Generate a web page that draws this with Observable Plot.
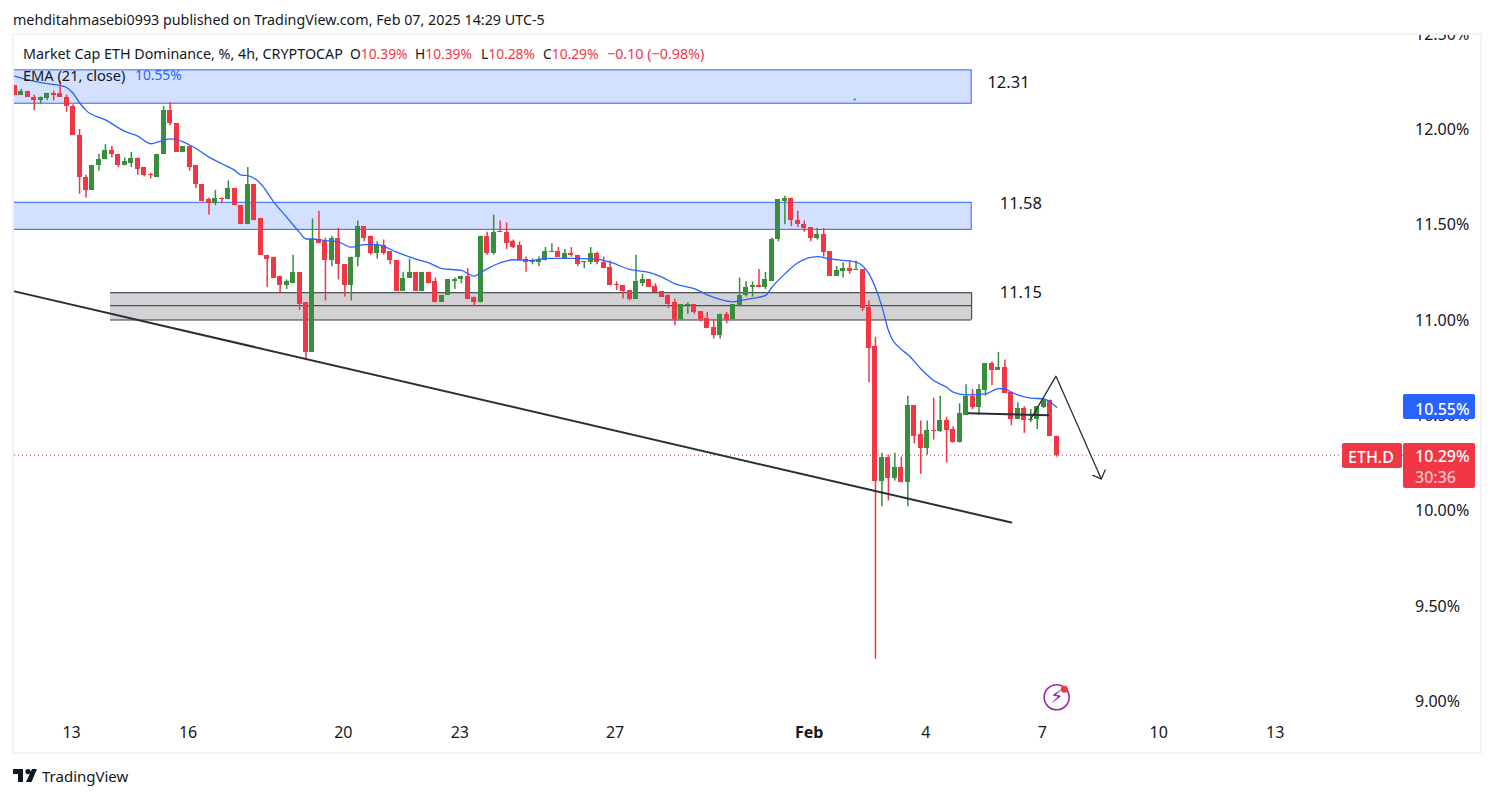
<!DOCTYPE html>
<html>
<head>
<meta charset="utf-8">
<script src="https://cdn.jsdelivr.net/npm/d3@7"></script>
<script src="https://cdn.jsdelivr.net/npm/@observablehq/plot@0.6"></script>
<style>
html,body{margin:0;padding:0;background:#fff;width:1495px;height:798px;overflow:hidden;font-family:"Noto Sans",sans-serif;color:#131722}
.abs{position:absolute;white-space:nowrap;line-height:1}
#frame{position:absolute;left:12px;top:33px;width:1470px;height:721px;box-sizing:border-box;border:2px solid #f3f3f3}
#chart{position:absolute;left:14px;top:35px;width:1466px;height:717px}
#chart svg{overflow:hidden;display:block;font-family:"Noto Sans",sans-serif}
.tag{position:absolute;color:#fff;font-size:16px;border-radius:2px;box-sizing:border-box}
.r{color:#f23645}
.h{font-size:14.3px}
</style>
</head>
<body>
<div id="frame"></div>
<div id="chart"></div>

<div class="abs h" id="pub" style="left:13px;top:13px">mehditahmasebi0993 published on TradingView.com, Feb 07, 2025 14:29 UTC-5</div>
<div class="abs h" style="left:23px;top:47px">Market Cap ETH Dominance, %, 4h, CRYPTOCAP</div>
<div class="abs" style="left:350px;top:47px;font-size:13.8px">O<span class="r">10.39%</span></div>
<div class="abs" style="left:415px;top:47px;font-size:13.8px">H<span class="r">10.39%</span></div>
<div class="abs" style="left:481px;top:47px;font-size:13.8px">L<span class="r">10.28%</span></div>
<div class="abs" style="left:543px;top:47px;font-size:13.8px">C<span class="r">10.29%</span></div>
<div class="abs r" style="left:607px;top:47px;font-size:14.3px">−0.10 (−0.98%)</div>
<div class="abs" style="left:23px;top:68px;font-size:14.6px">EMA (21, close)</div>
<div class="abs" style="left:135px;top:68px;font-size:13.8px;color:#2962ff">10.55%</div>

<div class="tag" style="left:1403px;top:394px;width:72px;height:25px;background:#2962ff;padding:4px 5px 0 12px;font-weight:500">10.55%</div>
<div class="tag" style="left:1342px;top:443px;width:60px;height:25px;background:#f23645;padding:3px 0 0 6px;font-weight:500">ETH.D</div>
<div class="tag" style="left:1403px;top:443px;width:72px;height:45px;background:#f23645;padding:3px 5px 0 12px;font-weight:500;line-height:21px">10.29%<br><span style="color:#ffc4c9">30:36</span></div>

<svg class="abs" style="left:13px;top:769px" width="24" height="14" viewBox="0 0 24 14"><path d="M0 0H10V13H5V5H0Z M15 0A2.6 2.6 0 1 1 15 5.2A2.6 2.6 0 1 1 15 0Z M19 0H24L18.5 13H13Z" fill="#131722"/></svg>
<div class="abs" style="left:42px;top:769px;font-size:15px">TradingView</div>

<script>
// OHLC of every 4h candle
const opens = [12.23,12.18,12.20,12.17,12.15,12.16,12.19,12.19,12.17,12.12,11.97,11.75,11.68,11.81,11.84,11.89,11.87,11.81,11.82,11.85,11.80,11.765,11.75,11.87,12.10,12.03,11.88,11.91,11.81,11.71,11.63,11.61,11.64,11.63,11.69,11.60,11.50,11.71,11.53,11.34,11.33,11.23,11.18,11.19,11.25,11.09,10.83,11.42,11.41,11.31,11.43,11.29,11.18,11.33,11.49,11.44,11.35,11.39,11.36,11.31,11.15,11.22,11.25,11.15,11.25,11.20,11.09,11.13,11.20,11.21,11.23,11.12,11.09,11.44,11.35,11.465,11.46,11.41,11.39,11.32,11.30,11.30,11.31,11.355,11.36,11.32,11.35,11.34,11.30,11.30,11.35,11.30,11.275,11.185,11.18,11.155,11.11,11.19,11.21,11.175,11.15,11.13,11.09,11.00,11.075,11.08,11.045,11.01,10.96,10.92,11.03,11.00,11.07,11.13,11.17,11.18,11.17,11.20,11.42,11.62,11.64,11.52,11.50,11.485,11.43,11.45,11.36,11.23,11.255,11.27,11.26,11.265,11.065,10.86,10.15,10.28,10.17,10.225,10.145,10.55,10.40,10.325,10.42,10.415,10.47,10.425,10.355,10.50,10.60,10.54,10.63,10.77,10.735,10.75,10.62,10.48,10.535,10.47,10.48,10.54,10.58,10.39];
const highs = [12.23,12.21,12.20,12.18,12.17,12.19,12.20,12.25,12.18,12.13,12.00,11.76,11.81,11.87,11.92,11.91,11.87,11.85,11.88,11.85,11.80,11.77,11.87,12.12,12.14,12.03,11.91,11.91,11.81,11.71,11.64,11.68,11.64,11.73,11.69,11.60,11.80,11.71,11.53,11.34,11.33,11.23,11.21,11.34,11.25,11.09,11.53,11.57,11.43,11.44,11.48,11.29,11.33,11.52,11.49,11.44,11.41,11.42,11.36,11.31,11.25,11.32,11.25,11.25,11.25,11.22,11.13,11.21,11.22,11.23,11.27,11.12,11.44,11.46,11.55,11.52,11.51,11.42,11.41,11.33,11.32,11.33,11.38,11.40,11.38,11.37,11.38,11.34,11.305,11.38,11.355,11.33,11.31,11.20,11.18,11.155,11.34,11.24,11.21,11.19,11.15,11.13,11.11,11.08,11.09,11.08,11.045,11.04,11.00,11.03,11.04,11.08,11.22,11.20,11.20,11.265,11.25,11.43,11.63,11.65,11.64,11.57,11.52,11.485,11.48,11.48,11.36,11.28,11.30,11.31,11.31,11.265,11.10,10.91,10.30,10.29,10.30,10.28,10.60,10.55,10.47,10.47,10.59,10.60,10.49,10.44,10.56,10.66,10.635,10.66,10.77,10.78,10.83,10.79,10.62,10.565,10.545,10.53,10.545,10.585,10.58,10.39];
const lows = [12.18,12.18,12.17,12.10,12.13,12.15,12.15,12.17,12.09,11.97,11.66,11.64,11.68,11.78,11.84,11.85,11.80,11.81,11.80,11.76,11.75,11.74,11.75,11.87,12.02,11.88,11.88,11.78,11.69,11.62,11.55,11.60,11.61,11.63,11.60,11.50,11.50,11.52,11.34,11.17,11.22,11.14,11.16,11.19,11.05,10.79,10.83,11.40,11.10,11.28,11.21,11.12,11.10,11.28,11.41,11.34,11.32,11.34,11.29,11.15,11.15,11.22,11.15,11.15,11.19,11.09,11.09,11.13,11.16,11.19,11.11,11.07,11.09,11.34,11.34,11.46,11.37,11.375,11.31,11.25,11.29,11.28,11.31,11.355,11.33,11.32,11.33,11.28,11.27,11.29,11.29,11.27,11.18,11.155,11.11,11.10,11.11,11.175,11.17,11.145,11.12,11.06,10.97,11.00,11.03,11.03,10.99,10.955,10.90,10.90,10.98,11.00,11.07,11.12,11.12,11.17,11.16,11.20,11.41,11.50,11.49,11.485,11.46,11.41,11.42,11.33,11.23,11.23,11.22,11.24,11.26,11.045,10.67,9.22,10.02,10.05,10.155,10.145,10.02,10.35,10.19,10.29,10.37,10.41,10.25,10.355,10.355,10.50,10.53,10.50,10.60,10.655,10.735,10.615,10.445,10.48,10.405,10.46,10.425,10.535,10.39,10.28];
const closes = [12.18,12.20,12.17,12.15,12.17,12.19,12.18,12.17,12.12,11.97,11.75,11.68,11.81,11.84,11.89,11.87,11.81,11.83,11.85,11.79,11.76,11.76,11.87,12.10,12.03,11.88,11.91,11.80,11.71,11.62,11.61,11.64,11.63,11.69,11.60,11.50,11.71,11.52,11.34,11.32,11.22,11.18,11.20,11.25,11.08,10.83,11.42,11.40,11.31,11.43,11.29,11.18,11.33,11.49,11.43,11.35,11.39,11.35,11.31,11.15,11.22,11.25,11.15,11.25,11.19,11.09,11.13,11.21,11.21,11.23,11.11,11.09,11.44,11.35,11.46,11.46,11.40,11.38,11.31,11.30,11.31,11.32,11.36,11.36,11.33,11.35,11.34,11.29,11.305,11.35,11.30,11.27,11.18,11.18,11.15,11.11,11.20,11.21,11.17,11.145,11.12,11.08,11.00,11.08,11.08,11.04,11.005,10.955,10.92,11.03,11.00,11.08,11.13,11.17,11.18,11.17,11.21,11.42,11.63,11.64,11.52,11.50,11.48,11.43,11.45,11.355,11.23,11.26,11.27,11.255,11.265,11.06,10.85,10.15,10.28,10.17,10.225,10.145,10.55,10.39,10.325,10.42,10.415,10.47,10.42,10.355,10.51,10.60,10.54,10.635,10.77,10.735,10.75,10.615,10.48,10.535,10.47,10.48,10.545,10.58,10.39,10.29];

// EMA(21) read at candle positions
const emaIndex = [0,2,5,7,8,9,10,11,14,17,19,21,22,24,26,28,30,32,34,35,36,38,40,42,44,45,46,48,50,52,54,56,57,59,62,64,66,69,71,72,75,77,80,82,86,90,92,95,98,100,102,105,107,109,111,112,114,116,117,119,121,124,126,130,132,134,135,137,138,140,142,144,145,147,150,152,153,154,157,159,161];
const emaValue = [12.28,12.26,12.24,12.23,12.22,12.19,12.14,12.10,12.05,11.99,11.965,11.925,11.933,11.95,11.935,11.90,11.855,11.82,11.785,11.76,11.758,11.715,11.62,11.54,11.46,11.425,11.425,11.417,11.41,11.382,11.395,11.395,11.386,11.356,11.32,11.30,11.27,11.26,11.23,11.25,11.30,11.316,11.312,11.323,11.323,11.318,11.303,11.265,11.25,11.225,11.19,11.164,11.132,11.108,11.095,11.102,11.113,11.129,11.172,11.242,11.30,11.332,11.32,11.304,11.242,11.07,10.945,10.845,10.819,10.744,10.682,10.647,10.621,10.607,10.612,10.64,10.639,10.621,10.59,10.586,10.542];

// Zones
const blueTop = [12.31, 12.135];
const blueMid = [11.615, 11.473];
const grayZone = [11.143, 11.075, 11.00];
const zoneRight = 147.87;
const zoneLeftBlue = -1;
const zoneLeftGray = 14.79;

// Drawn lines (candle index, price)
const trendIdx = [-0.05, 154];   const trendPrice = [11.15, 9.937];
const flatIdx = [147.4, 159.7];  const flatPrice = [10.511, 10.50];
const zigIdx = [157, 160.9, 167.9];       const zigPrice = [10.481, 10.705, 10.166];
const headIdx = [166.6, 167.9, 168.5];    const headPrice = [10.184, 10.166, 10.213];

// Annotations
const noteText = ["12.31", "11.58", "11.15"];
const noteIdx = [150.3, 152.2, 152.2];
const notePrice = [12.247, 11.61, 11.142];

// Axes
const yTicks = [9, 9.5, 10, 10.5, 11, 11.5, 12, 12.5];
const xTicks = [9, 27, 51, 69, 93, 141, 159, 177, 195];
const xLabels = ["13", "16", "20", "23", "27", "4", "7", "10", "13"];
const febTick = 123;
const lastClose = 10.29;

const candles = opens.map((o, i) => ({i, o, h: highs[i], l: lows[i], c: closes[i]}));
const up = candles.filter(d => d.c >= d.o);
const down = candles.filter(d => d.c < d.o);
const GREEN = "#388e3c", RED = "#f23645", BLUE = "#2962ff", INK = "#2a2e39";
const half = 0.386;

const pairs = (xs, ys) => xs.map((x, k) => ({x, y: ys[k]}));
const candleMarks = (rows, color) => [
  Plot.ruleX(rows, {x: "i", y1: "l", y2: "h", stroke: color, strokeWidth: 1.5}),
  Plot.rect(rows, {x1: d => d.i - half, x2: d => d.i + half, y1: d => Math.min(d.o, d.c), y2: d => Math.max(d.o, d.c), fill: color, shapeRendering: "crispEdges"})
];

const plot = Plot.plot({
  width: 1466, height: 717,
  marginLeft: 0, marginRight: 77, marginTop: 0, marginBottom: 36,
  x: {type: "linear", domain: [-0.05, 214.6], axis: null},
  y: {type: "linear", domain: [8.919, 12.493], axis: null},
  style: {background: "transparent", fontFamily: "'Noto Sans',sans-serif"},
  marks: [
    Plot.axisY(yTicks, {anchor: "right", tickSize: 0, tickPadding: 11.5, dy: 0.6, textAnchor: "start", fontSize: 16, fill: "#131722", label: null, tickFormat: d => d.toFixed(2) + "%"}),
    Plot.axisX(xTicks, {anchor: "bottom", tickSize: 0, tickPadding: 10, dx: -1.5, fontSize: 16, fill: "#131722", label: null, tickFormat: (d, k) => xLabels[xTicks.indexOf(d)]}),
    Plot.axisX([febTick], {anchor: "bottom", tickSize: 0, tickPadding: 10, dx: -1.5, fontSize: 16, fontWeight: 700, fill: "#131722", label: null, tickFormat: () => "Feb"}),
    Plot.rect([blueTop, blueMid], {x1: zoneLeftBlue, x2: zoneRight, y1: d => d[1], y2: d => d[0], fill: "#d4e0ff", stroke: BLUE, strokeWidth: 1}),
    Plot.rect([grayZone], {x1: zoneLeftGray, x2: zoneRight, y1: d => d[2], y2: d => d[0], fill: "#d2d2d4"}),
    Plot.ruleY(grayZone, {x1: zoneLeftGray, x2: zoneRight, stroke: INK, strokeWidth: 1}),
    Plot.ruleX([zoneRight], {y1: grayZone[2], y2: grayZone[0], stroke: INK, strokeWidth: 1}),
    Plot.ruleY([lastClose], {stroke: RED, strokeWidth: 1, strokeDasharray: "1,3"}),
    ...candleMarks(up, GREEN),
    ...candleMarks(down, RED),
    Plot.line(pairs(emaIndex, emaValue), {x: "x", y: "y", stroke: BLUE, strokeWidth: 1.3, curve: "monotone-x"}),
    Plot.line(pairs(trendIdx, trendPrice), {x: "x", y: "y", stroke: INK, strokeWidth: 2}),
    Plot.line(pairs(flatIdx, flatPrice), {x: "x", y: "y", stroke: INK, strokeWidth: 2}),
    Plot.line(pairs(zigIdx, zigPrice), {x: "x", y: "y", stroke: INK, strokeWidth: 1.3}),
    Plot.line(pairs(headIdx, headPrice), {x: "x", y: "y", stroke: INK, strokeWidth: 1.3}),
    Plot.text(noteText, {x: (d, k) => noteIdx[k], y: (d, k) => notePrice[k], text: d => d, textAnchor: "start", fontSize: 16.5, fill: "#131722"}),
    Plot.dot([{x: 129.8, y: 12.157}], {x: "x", y: "y", r: 1.2, fill: "#22ab94"}),
    Plot.dot([{x: 161, y: 9.02}], {x: "x", y: "y", r: 12.5, stroke: "#9c27b0", strokeWidth: 1.6, fill: "none"}),
    Plot.text([{x: 161, y: 9.02}], {x: "x", y: "y", text: () => "⚡", fontSize: 19, fill: "#9c27b0", fontFamily: "DejaVu Sans"}),
    Plot.dot([{x: 162.2, y: 9.062}], {x: "x", y: "y", r: 3.5, fill: RED})
  ]
});
document.getElementById("chart").appendChild(plot);
</script>
</body>
</html>
